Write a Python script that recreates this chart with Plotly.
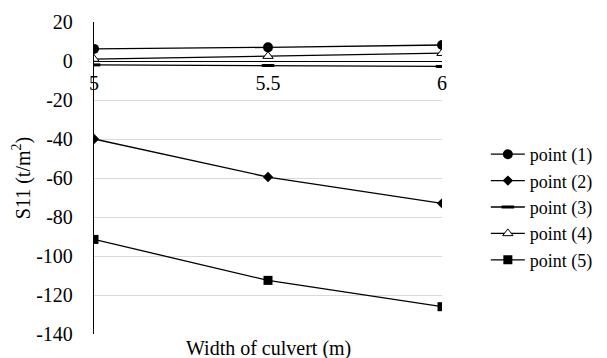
import plotly.graph_objects as go

widths = [5, 5.5, 6]
tick_text = ["5", "5.5", "6"]
y_ticks = [20, 0, -20, -40, -60, -80, -100, -120, -140]
y_tick_text = ["20", "0", "-20", "-40", "-60", "-80", "-100", "-120", "-140"]
point1 = [6.2, 7.0, 8.2]
point2 = [-40.0, -59.5, -73.0]
point3 = [-2.0, -2.3, -2.8]
point4 = [1.0, 2.5, 4.0]
point5 = [-91.5, -112.5, -126.0]

series = [
    ("point (1)", point1, dict(symbol="circle", size=10, color="black")),
    ("point (2)", point2, dict(symbol="diamond", size=8, color="black")),
    ("point (3)", point3, dict(symbol="line-ew", size=9, color="black",
                               line=dict(width=3, color="black"))),
    ("point (4)", point4, dict(symbol="triangle-up", size=9, color="white",
                               line=dict(width=1, color="black"))),
    ("point (5)", point5, dict(symbol="square", size=9, color="black")),
]

FAMILY = "Liberation Serif"
f = dict(family=FAMILY, size=20, color="black")
f_legend = dict(family=FAMILY, size=18, color="black")

fig = go.Figure()
for name, vals, mk in series:
    fig.add_trace(go.Scatter(
        x=widths, y=vals, name=name, mode="lines+markers",
        line=dict(color="black", width=1.3), marker=mk,
    ))

ymin, ymax = -140, 20
fig.update_layout(
    width=607, height=358,
    margin=dict(l=94, r=165, t=22, b=24, autoexpand=False),
    paper_bgcolor="white", plot_bgcolor="white",
    font=f,
    showlegend=True,
    legend=dict(x=1.126, y=0.407, xanchor="left", yanchor="middle",
                font=f_legend, tracegroupgap=0, itemwidth=34,
                bgcolor="rgba(0,0,0,0)"),
    xaxis=dict(
        range=[5, 6], tickvals=widths, ticktext=tick_text,
        showgrid=False, zeroline=False, showline=True, linecolor="black",
        linewidth=1.3, anchor="free",
        position=(0 - ymin) / (ymax - ymin), ticks="",
        tickfont=f, ticklabelstandoff=4,
    ),
    yaxis=dict(
        range=[ymin, ymax], tickvals=y_ticks, ticktext=y_tick_text,
        showgrid=True, gridcolor="#d9d9d9",
        gridwidth=1, zeroline=False, showline=True, linecolor="black",
        linewidth=1.3, ticks="", tickfont=f, ticklabelstandoff=16,
        title=dict(text="S11 (t/m<sup>2</sup>)", font=f, standoff=0),
    ),
    annotations=[dict(
        text="Width of culvert (m)", x=0.5, y=-0.0, xref="paper", yref="paper",
        xanchor="center", yanchor="top", showarrow=False, yshift=-1,
        font=f,
    )],
)

fig.write_html("out.html")
